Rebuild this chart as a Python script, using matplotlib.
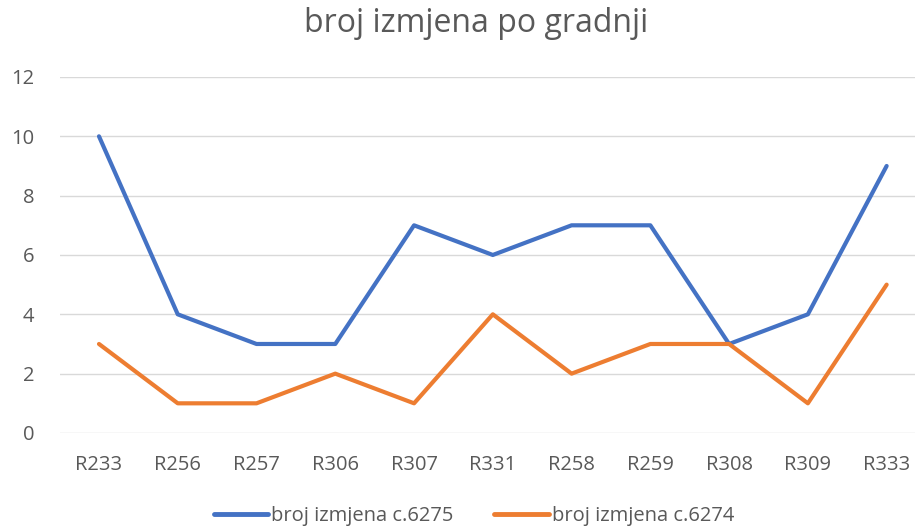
import numpy as np
import matplotlib.pyplot as plt

categories = ['R233', 'R256', 'R257', 'R306', 'R307', 'R331', 'R258', 'R259', 'R308', 'R309', 'R333']
izmjene_6275 = [10, 4, 3, 3, 7, 6, 7, 7, 3, 4, 9]
izmjene_6274 = [3, 1, 1, 2, 1, 4, 2, 3, 3, 1, 5]
yticks = [0, 2, 4, 6, 8, 10, 12]

plt.rcParams['font.family'] = ['Open Sans', 'DejaVu Sans']
grey = '#595959'

fig = plt.figure(figsize=(9.15, 5.29), dpi=100)
ax = fig.add_axes([59.6/915, 0.1815, 1 - 59.6/915, 0.673])

x = np.arange(len(categories))
ax.plot(x, izmjene_6275, color='#4472C4', lw=3, solid_capstyle='round', solid_joinstyle='round', label='broj izmjena c.6275')
ax.plot(x, izmjene_6274, color='#ED7D31', lw=3, solid_capstyle='round', solid_joinstyle='round', label='broj izmjena c.6274')

ax.set_xlim(-0.5, 10.36)
ax.set_ylim(0, 12)
ax.set_yticks(yticks)
ax.set_xticks(x)
ax.set_xticklabels(categories)
ax.grid(axis='y', color='#D9D9D9', lw=1)
ax.set_axisbelow(True)
for s in ax.spines.values():
    s.set_visible(False)
ax.tick_params(length=0, labelsize=14.5, colors=grey, pad=16)
ax.tick_params(axis='y', pad=18)

fig.text(476/915, 1 - 23/529, 'broj izmjena po gradnji', ha='center', va='center', fontsize=23, color=grey)

leg = fig.legend(loc='center', bbox_to_anchor=(474/915, 0.025), ncol=2, frameon=False,
                 fontsize=14.5, handlelength=2.7, handletextpad=0.15, columnspacing=2.0)
for line in leg.get_lines():
    line.set_linewidth(3.5)
for t in leg.get_texts():
    t.set_color(grey)

fig.savefig('out.png', dpi=100)
